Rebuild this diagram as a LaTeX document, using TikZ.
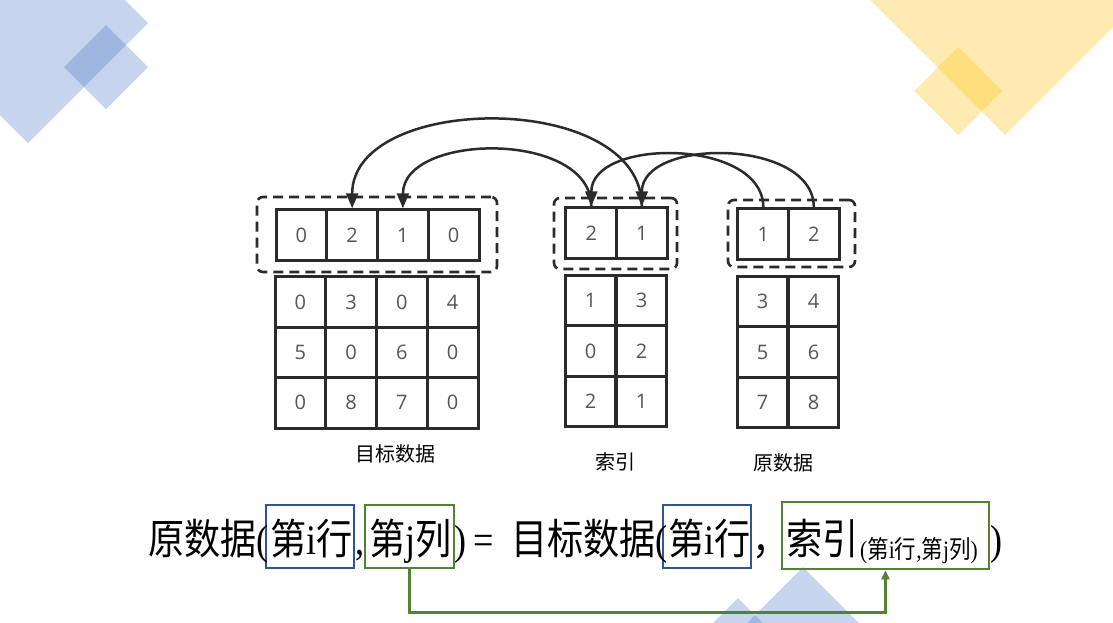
\documentclass[tikz,border=0pt]{standalone}
\usepackage{fontspec}
\setmainfont{Liberation Serif}
\newfontfamily\cjk{Noto Sans CJK SC}
\newfontfamily\cjkx{Noto Sans CJK SC}[FakeStretch=0.86]
\newfontfamily\serx{Liberation Serif}[FakeStretch=0.86]
\newfontfamily\digf{Open Sans}
\usetikzlibrary{arrows.meta}
\definecolor{linec}{HTML}{2B2B2B}
\definecolor{digc}{HTML}{555555}
\definecolor{decoblue}{HTML}{4472C4}
\definecolor{decoyel}{HTML}{FFC000}
\definecolor{boxblue}{HTML}{2F5597}
\definecolor{boxgreen}{HTML}{548235}
\tikzset{
  cell/.style={draw=linec, line width=3pt, inner sep=0pt, minimum width=50.75pt, minimum height=50.5pt, text=digc, font=\digf\fontsize{20}{24}\selectfont},
  dashframe/.style={draw=linec, line width=2.6pt, dash pattern=on 10pt off 6pt, rounded corners=6pt, inner sep=0pt},
  arcline/.style={draw=linec, line width=2.5pt},
  arctip/.style={-{Triangle[length=15pt,width=12pt]}},
  lab/.style={inner sep=0pt, font=\cjk\fontsize{20}{23}\selectfont},
  ftext/.style={anchor=base west, inner sep=0pt, font=\serx\fontsize{42}{44}\selectfont},
  bbox/.style={draw=boxblue, line width=2.6pt, inner sep=0pt, minimum height=63pt},
  gbox/.style={draw=boxgreen, line width=2.6pt, inner sep=0pt},
  deco/.style={opacity=0.3}
}
\begin{document}
\begin{tikzpicture}[x=1pt,y=-1pt]
\fill[white] (0,0) rectangle (1113,622);
\useasboundingbox (0,0) rectangle (1113,622);
% decorations
\begin{scope}
\clip (0,0) rectangle (1113,622);
\fill[decoblue, deco] (28,-97) -- (148,23) -- (28,143) -- (-92,23) -- cycle;
\fill[decoblue, deco] (106,25) -- (148,67) -- (106,109) -- (64,67) -- cycle;
\fill[decoyel, deco] (1005,-145) -- (1145,-5) -- (1005,135) -- (865,-5) -- cycle;
\fill[decoyel, deco] (958,47) -- (1002,91) -- (958,135) -- (914,91) -- cycle;
\fill[decoblue, deco] (803,567) -- (883,647) -- (803,727) -- (723,647) -- cycle;
\fill[decoblue, deco] (738,598) -- (778,638) -- (738,678) -- (698,638) -- cycle;
\end{scope}
% dashed frames
\node[dashframe, minimum width=240pt, minimum height=75pt] (tframe) at (377,234.5) {};
\node[dashframe, minimum width=123pt, minimum height=71pt] (iframe) at (615.5,233.5) {};
\node[dashframe, minimum width=127pt, minimum height=67pt] (oframe) at (791.5,233.5) {};
% target top row
\foreach \v [count=\i] in {0,2,1,0}
  \node[cell] (tt\i) at ({301.4+50.75*(\i-1)},235) {\v};
% target lower grid
\foreach \row [count=\r] in {{0,3,0,4},{5,0,6,0},{0,8,7,0}}
  \foreach \v [count=\c] in \row
    \node[cell] (tg\r\c) at ({300.4+50.75*(\c-1)},{302.2+50.3*(\r-1)}) {\v};
% index top row
\foreach \v [count=\i] in {2,1}
  \node[cell] (it\i) at ({591.3+50.5*(\i-1)},233) {\v};
% index lower grid
\foreach \row [count=\r] in {{1,3},{0,2},{2,1}}
  \foreach \v [count=\c] in \row
    \node[cell] (ig\r\c) at ({590.5+51*(\c-1)},{300.3+50.7*(\r-1)}) {\v};
% original top row
\foreach \v [count=\i] in {1,2}
  \node[cell] (ot\i) at ({763.3+50.5*(\i-1)},234) {\v};
% original lower grid
\foreach \row [count=\r] in {{3,4},{5,6},{7,8}}
  \foreach \v [count=\c] in \row
    \node[cell] (og\r\c) at ({762.5+51*(\c-1)},{301.3+50.7*(\r-1)}) {\v};
% labels
\node[lab] (ltarget) at (395,454) {目标数据};
\node[lab] (lindex) at (615,462) {索引};
\node[lab] (lorig) at (783,463) {原数据};
% arcs
\draw[arcline, arctip] (ot1.north) .. controls +(0,-69) and +(0,-69) .. (it1.north);
\draw[arcline, arctip] (ot2.north) .. controls +(0,-69) and +(0,-69) .. (it2.north);
\draw[arcline, arctip] (it1.north) .. controls +(0,-76) and +(0,-76) .. (tt3.north);
\draw[arcline, arctip] (it2.north) .. controls +(0,-116) and +(0,-116) .. (tt2.north);
% formula boxes
\node[bbox, minimum width=88pt] (bb1) at (310,536.5) {};
\node[gbox, minimum width=89pt, minimum height=63pt] (gb1) at (409.5,536.5) {};
\node[bbox, minimum width=88pt] (bb2) at (707,536.5) {};
\node[gbox, minimum width=207pt, minimum height=67pt] (gb2) at (885.5,535.5) {};
% formula text
\node[ftext] (f1) at (148,554) {\cjkx 原数据};
\node[ftext] (f1p) at (256.5,554) {(};
\node[ftext] (f2) at (270,554) {{\cjkx 第}i{\cjkx 行}};
\node[ftext] (f3) at (355,554) {,};
\node[ftext] (f4) at (369,554) {{\cjkx 第}j{\cjkx 列}};
\node[ftext] (f5) at (454,554) {)};
\node[ftext] (f6) at (473,554) {=};
\node[ftext] (f7) at (511,554) {\cjkx 目标数据};
\node[ftext] (f7p) at (655.5,554) {(};
\node[ftext] (f8) at (668,554) {{\cjkx 第}i{\cjkx 行}};
\node[ftext] (f9) at (752,554) {\cjkx ，};
\node[ftext] (f10) at (786,554) {\cjkx 索引};
\node[ftext, font=\serx\fontsize{25}{27}\selectfont] (f11) at (860,558) {({\cjkx 第}i{\cjkx 行},{\cjkx 第}j{\cjkx 列})};
\node[ftext] (f12) at (990,554) {)};
% green arrow
\draw[boxgreen, line width=2.6pt, -{Triangle[length=9pt,width=8pt]}] (gb1.south) -- ++(0,43) -| (gb2.south);
\end{tikzpicture}
\end{document}
